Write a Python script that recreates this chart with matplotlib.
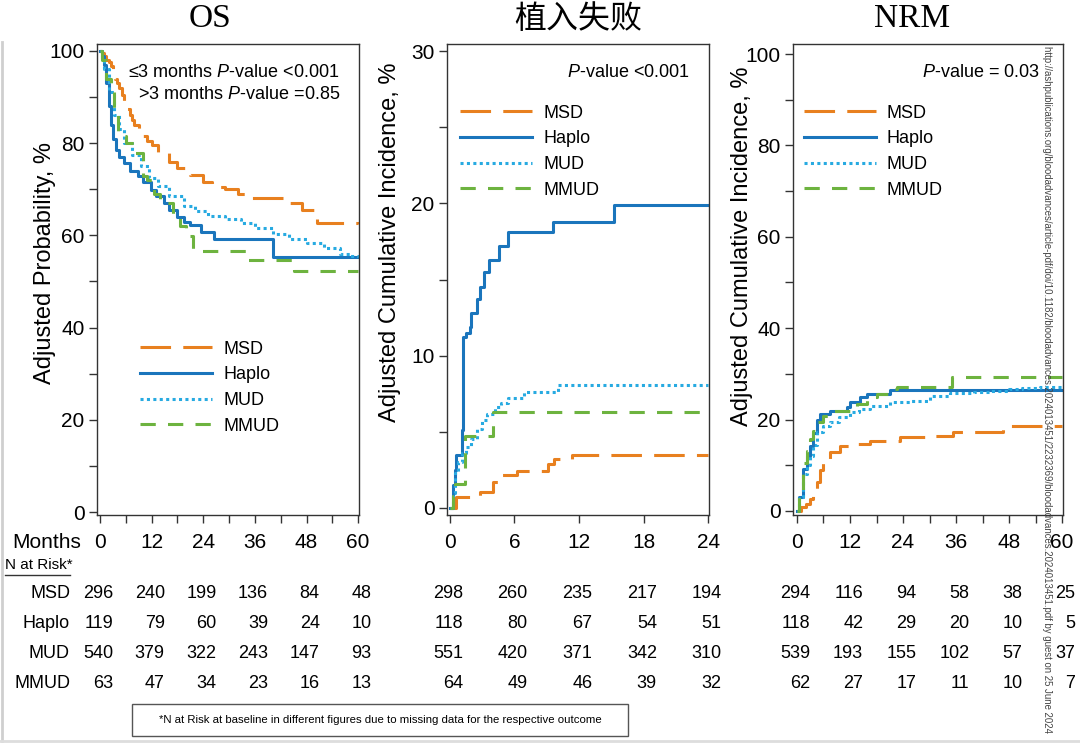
import numpy as np
import matplotlib
matplotlib.use('Agg')
import matplotlib.pyplot as plt
from matplotlib.lines import Line2D
from matplotlib.patches import Rectangle
from matplotlib.transforms import blended_transform_factory, offset_copy

plt.rcParams['font.family'] = ['Liberation Sans', 'Noto Sans CJK SC', 'DejaVu Sans']
plt.rcParams['mathtext.fontset'] = 'custom'
plt.rcParams['mathtext.rm'] = 'Liberation Sans'
plt.rcParams['mathtext.it'] = 'Liberation Sans:italic'

groups = ['MSD', 'Haplo', 'MUD', 'MMUD']
colors = {'MSD': '#E8801F', 'Haplo': '#1A75BC', 'MUD': '#27AAE1', 'MMUD': '#6DB33F'}
styles = {'MSD': (0, (10, 4)), 'Haplo': '-', 'MUD': (0, (1, 1.1)), 'MMUD': (0, (5, 4))}

# ---- OS (adjusted probability, %) ----
os_msd_t = [0, 0.5, 1, 1.5, 2, 2.5, 3, 3.5, 4, 4.5, 5, 5.6, 6.3, 7, 7.5, 8, 9, 10, 11, 12, 13.5, 16, 18,
            21, 24, 26, 29, 32, 35, 38, 42.6, 47, 50.5, 60]
os_msd_v = [100, 99.5, 99, 98, 97.5, 96.7, 95.5, 94, 93, 92, 90.5, 89, 87.5, 86, 85, 84, 82.5, 81.5, 80.5,
            79.5, 78, 76, 74.5, 73, 71.5, 70.5, 70, 69, 68, 68, 67, 65.5, 62.6, 62.5]
os_haplo_t = [0, 0.5, 1, 1.5, 2, 2.5, 3, 3.7, 4.5, 5.6, 7, 8.8, 10, 11.8, 13, 14.8, 16, 18, 19.5, 21, 23.4,
              26.4, 40.3, 60]
os_haplo_v = [100, 99, 97, 93, 88, 84, 81, 78.5, 77, 75.6, 74, 72.8, 71.5, 69.8, 68.5, 67, 65.5, 64, 63,
              62.2, 60.8, 59.3, 55.4, 55.4]
os_mud_t = [0, 0.5, 1, 2, 3.3, 4.5, 5.6, 7.5, 9.5, 11.5, 13.4, 16, 19.5, 22, 25, 29, 32.7, 36, 40.3, 44,
            48, 52, 55.8, 58, 60]
os_mud_v = [100, 98, 96, 91, 86, 83, 80, 77.5, 75, 72.5, 70.6, 68.5, 66.3, 65.2, 64.3, 63.5, 62.6, 61.5,
            60.4, 59.3, 58.3, 57.2, 56, 55.5, 55.4]
os_mmud_t = [0, 0.5, 1.5, 2.5, 3.3, 4.2, 6, 8, 10, 11, 12.5, 14, 17, 18.5, 19.9, 21.5, 34.3, 45, 60]
os_mmud_v = [100, 98, 94, 91, 86, 81.5, 80, 77.8, 72.8, 72, 69, 67, 64, 62, 59.8, 56.7, 54.6, 52.2, 52.2]

# ---- graft failure (adjusted cumulative incidence, %) ----
gf_msd_t = [0, 0.6, 2.8, 4.0, 4.8, 6.2, 9.1, 9.7, 11.3, 24]
gf_msd_v = [0, 0.7, 1.05, 1.7, 2.15, 2.4, 2.9, 3.2, 3.5, 3.5]
gf_haplo_t = [0, 0.3, 0.5, 0.6, 1.1, 1.2, 1.5, 1.85, 2.0, 2.5, 2.8, 3.2, 3.6, 4.6, 5.4, 9.6, 15.2, 24]
gf_haplo_v = [0, 1.5, 2.5, 3.5, 5.1, 11.2, 11.5, 11.9, 12.8, 13.7, 14.5, 15.5, 16.3, 17.2, 18.1, 18.8,
              19.9, 19.9]
gf_mud_t = [0, 0.3, 0.5, 0.8, 1.1, 1.5, 2.0, 2.5, 2.95, 3.5, 4.2, 4.8, 5.4, 6.9, 10.0, 24]
gf_mud_v = [0, 1.0, 2.3, 3.0, 3.6, 4.0, 4.5, 5.2, 5.8, 6.2, 6.6, 6.9, 7.2, 7.6, 8.1, 8.1]
gf_mmud_t = [0, 0.3, 0.5, 1.4, 4.0, 24]
gf_mmud_v = [0, 0.8, 1.6, 4.7, 6.3, 6.3]

# ---- NRM (adjusted cumulative incidence, %) ----
nrm_msd_t = [0, 1, 2, 2.9, 3.7, 4.5, 5.2, 5.9, 7.5, 9.7, 13.6, 16.5, 23.3, 30, 35.3, 46.6, 60]
nrm_msd_v = [0, 0.8, 1.5, 2.6, 4.3, 6.3, 9, 11.4, 12.9, 14.2, 14.6, 15.3, 16.1, 16.4, 17.2, 18.6, 18.6]
nrm_haplo_t = [0, 0.5, 1.4, 2.2, 2.9, 3.7, 4.5, 5.2, 7.5, 11.3, 12, 14.3, 15.8, 21, 60]
nrm_haplo_v = [0, 3, 9.2, 12, 14.2, 17, 20, 21.2, 21.8, 22.7, 23.8, 24.9, 25.5, 26.5, 26.5]
nrm_mud_t = [0, 0.5, 1.4, 2.2, 2.9, 3.7, 4.5, 6, 7.5, 9.5, 12, 14, 16.5, 21, 25.5, 30, 34.6, 40, 43.7, 48,
             51, 55, 60]
nrm_mud_v = [0, 3, 8, 10, 12, 14.5, 17.2, 18.5, 19.4, 20.5, 21.6, 22.2, 22.9, 23.8, 24.0, 25.1, 25.9,
             26.1, 26.2, 26.6, 27, 27.2, 27.3]
nrm_mmud_t = [0, 0.5, 1.4, 2.2, 2.9, 3.7, 4.5, 5.9, 8.1, 12, 13.5, 15.8, 18, 21, 22.6, 35, 60]
nrm_mmud_v = [0, 4, 10.5, 13, 15.7, 17.5, 19.4, 20.7, 21.8, 22.9, 23.5, 24.9, 25.5, 26.6, 27.1, 29.3, 29.3]

# ---- N at risk ----
os_risk_t = [0, 12, 24, 36, 48, 60]
os_risk = {'MSD': [296, 240, 199, 136, 84, 48], 'Haplo': [119, 79, 60, 39, 24, 10],
           'MUD': [540, 379, 322, 243, 147, 93], 'MMUD': [63, 47, 34, 23, 16, 13]}
gf_risk_t = [0, 6, 12, 18, 24]
gf_risk = {'MSD': [298, 260, 235, 217, 194], 'Haplo': [118, 80, 67, 54, 51],
           'MUD': [551, 420, 371, 342, 310], 'MMUD': [64, 49, 46, 39, 32]}
nrm_risk_t = [0, 12, 24, 36, 48, 60]
nrm_risk = {'MSD': [294, 116, 94, 58, 38, 25], 'Haplo': [118, 42, 29, 20, 10, 5],
            'MUD': [539, 193, 155, 102, 57, 37], 'MMUD': [62, 27, 17, 11, 10, 7]}

W, H = 1080, 743
fig = plt.figure(figsize=(W / 100, H / 100), dpi=100)


def px_axes(x0, y0, x1, y1):
    return fig.add_axes([x0 / W, 1 - y1 / H, (x1 - x0) / W, (y1 - y0) / H])


def draw_panel(ax, curves, xlim, ylim, xmaj, xmin, ymaj, ymin):
    for g in groups:
        t, v = curves[g]
        ax.step(t, v, where='post', color=colors[g], ls=styles[g], lw=2.2, label=g)
    ax.set_xlim(*xlim)
    ax.set_ylim(*ylim)
    ax.set_xticks(xmaj)
    ax.set_xticks(xmin, minor=True)
    ax.set_yticks(ymaj)
    ax.set_yticks(ymin, minor=True)
    ax.tick_params(which='both', direction='out', length=6, width=1, labelsize=15, color='#333333')
    ax.tick_params(axis='x', pad=7)
    ax.tick_params(axis='y', pad=3)
    for s in ax.spines.values():
        s.set_linewidth(1.0)
        s.set_color('#333333')


def risk_table(ax, times, risk, dx=9.5):
    trans = offset_copy(blended_transform_factory(ax.transData, fig.transFigure),
                        fig=fig, x=dx, y=0, units='points')
    for g, yp in zip(groups, row_y):
        for t, n in zip(times, risk[g]):
            ax.text(t, 1 - yp / H, str(n), ha='right', va='center', fontsize=13,
                    transform=trans, clip_on=False)


row_y = [593, 623, 653, 683]
leg_kw = dict(loc='upper left', frameon=False, fontsize=13, handlelength=4.0, handletextpad=0.6,
              labelspacing=0.48, borderpad=0, borderaxespad=0)

# OS
ax1 = px_axes(97, 44, 359, 515)
draw_panel(ax1, {'MSD': (os_msd_t, os_msd_v), 'Haplo': (os_haplo_t, os_haplo_v),
                 'MUD': (os_mud_t, os_mud_v), 'MMUD': (os_mmud_t, os_mmud_v)},
           (-0.7, 60.2), (-0.65, 101.5), range(0, 61, 12), range(6, 60, 12),
           range(0, 101, 20), range(10, 100, 20))
ax1.set_ylabel('Adjusted Probability, %', fontsize=17, va='center')
ax1.yaxis.set_label_coords(-0.198, 0.535)
ax1.text(0.927, 0.94, r'≤3 months $\it{P}$-value <0.001', transform=ax1.transAxes,
         ha='right', va='center', fontsize=13)
ax1.text(0.927, 0.893, r'>3 months $\it{P}$-value =0.85', transform=ax1.transAxes,
         ha='right', va='center', fontsize=13)
ax1.legend(bbox_to_anchor=(0.165, 0.37), **leg_kw)
risk_table(ax1, os_risk_t, os_risk)

# graft failure
ax2 = px_axes(447, 44, 709, 515)
draw_panel(ax2, {'MSD': (gf_msd_t, gf_msd_v), 'Haplo': (gf_haplo_t, gf_haplo_v),
                 'MUD': (gf_mud_t, gf_mud_v), 'MMUD': (gf_mmud_t, gf_mmud_v)},
           (-0.25, 24.05), (-0.46, 30.46), range(0, 25, 6), [],
           range(0, 31, 10), range(5, 30, 10))
ax2.set_ylabel('Adjusted Cumulative Incidence, %', fontsize=17, va='center')
ax2.yaxis.set_label_coords(-0.218, 0.58)
ax2.text(0.927, 0.94, r'$\it{P}$-value <0.001', transform=ax2.transAxes,
         ha='right', va='center', fontsize=13)
ax2.legend(bbox_to_anchor=(0.05, 0.871), **leg_kw)
risk_table(ax2, gf_risk_t, gf_risk)

# NRM
ax3 = px_axes(793, 44, 1063, 515)
draw_panel(ax3, {'MSD': (nrm_msd_t, nrm_msd_v), 'Haplo': (nrm_haplo_t, nrm_haplo_v),
                 'MUD': (nrm_mud_t, nrm_mud_v), 'MMUD': (nrm_mmud_t, nrm_mmud_v)},
           (-0.9, 60.2), (-0.9, 102.2), range(0, 61, 12), range(6, 60, 12),
           range(0, 101, 20), range(10, 100, 20))
ax3.set_ylabel('Adjusted Cumulative Incidence, %', fontsize=17, va='center')
ax3.yaxis.set_label_coords(-0.189, 0.57)
ax3.text(0.915, 0.94, r'$\it{P}$-value = 0.03', transform=ax3.transAxes,
         ha='right', va='center', fontsize=13)
ax3.legend(bbox_to_anchor=(0.04, 0.871), **leg_kw)
risk_table(ax3, nrm_risk_t, nrm_risk)

# titles
fig.text(210 / W, 1 - 19 / H, 'OS', family='Liberation Serif', fontsize=24, ha='center', va='center')
fig.text(578 / W, 1 - 19 / H, '植入失败', family=['Noto Sans CJK SC', 'DejaVu Sans'],
         fontsize=23, ha='center', va='center')
fig.text(912 / W, 1 - 19 / H, 'NRM', family='Liberation Serif', fontsize=24, ha='center', va='center')

# risk table labels
fig.text(81 / W, 1 - 543 / H, 'Months', fontsize=15, ha='right', va='center')
fig.text(5 / W, 1 - 565 / H, 'N at Risk*', fontsize=11, ha='left', va='center')
fig.add_artist(Line2D([5 / W, 70 / W], [1 - 575 / H, 1 - 575 / H], color='#333333', lw=1))
for g, yp in zip(groups, row_y):
    fig.text(70 / W, 1 - yp / H, g, fontsize=13, ha='right', va='center')

# footnote
fig.add_artist(Rectangle((132 / W, 1 - 736 / H), 496 / W, 32 / H, transform=fig.transFigure,
                         fill=False, edgecolor='#555555', lw=1))
fig.text(380 / W, 1 - 720 / H,
         '*N at Risk at baseline in different figures due to missing data for the respective outcome',
         fontsize=8.2, ha='center', va='center')

# download watermark
fig.text(1047 / W, 1 - 733 / H,
         'http://ashpublications.org/bloodadvances/article-pdf/doi/10.1182/'
         'bloodadvances.2024013451/2232369/bloodadvances.2024013451.pdf by guest on 25 June 2024',
         rotation=270, fontsize=6.9, color='#444444', ha='center', va='bottom')

# light page border
fig.add_artist(Line2D([1.5 / W, 1.5 / W], [0, 1 - 42 / H], color='#cfcfcf', lw=2))
fig.add_artist(Line2D([0, 1], [2 / H, 2 / H], color='#dddddd', lw=2))

fig.savefig('out.png', dpi=100)
